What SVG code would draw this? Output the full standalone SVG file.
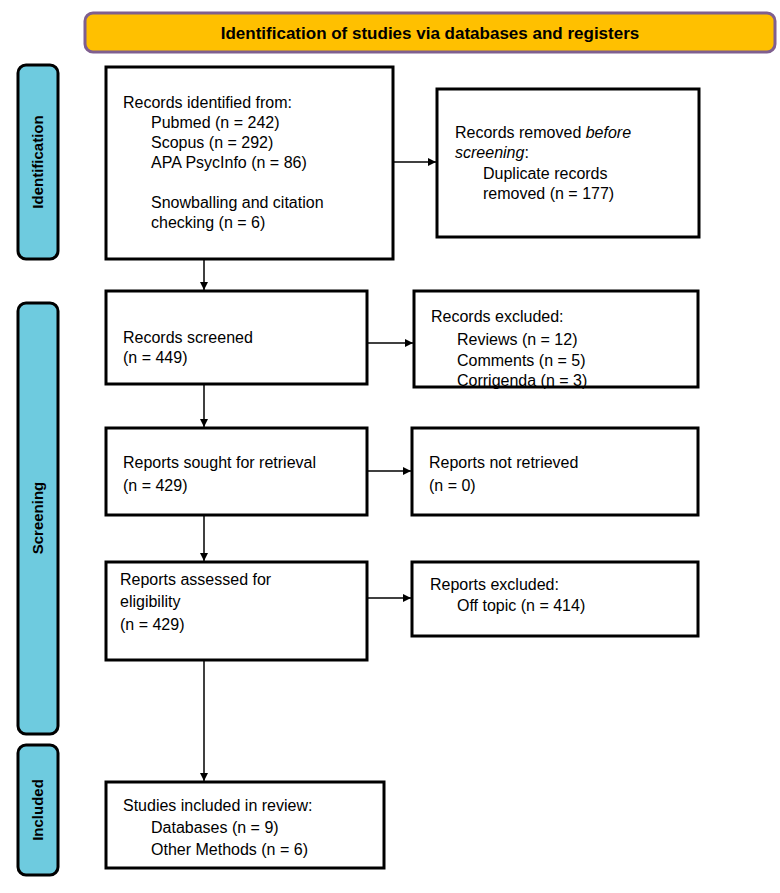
<svg xmlns="http://www.w3.org/2000/svg" width="780" height="893" viewBox="0 0 780 893">
<style>
text{font-family:"Liberation Sans",Arial,sans-serif;font-size:16px;fill:#000}
.b{fill:#fff;stroke:#000;stroke-width:3}
.side{fill:#6ECBDF;stroke:#000;stroke-width:3}
.sl{font-weight:bold;font-size:15px;text-anchor:middle}
.c line{stroke:#000;stroke-width:1.5}
</style>
<defs><marker id="a" viewBox="0 0 10 10" refX="10" refY="5" markerWidth="8" markerHeight="8" markerUnits="userSpaceOnUse" orient="auto"><path d="M0,0L10,5L0,10z"/></marker></defs>
<rect width="780" height="893" fill="#fff"/>
<g id="header"><rect x="85" y="13" width="690" height="39" rx="8" fill="#FFC000" stroke="#7F5F8F" stroke-width="3"/><text x="430" y="39" text-anchor="middle" font-weight="bold" style="font-size:17px">Identification of studies via databases and registers</text></g>
<g id="side-identification"><rect class="side" x="18" y="65" width="40" height="194" rx="8"/><text class="sl" transform="translate(43,162) rotate(-90)">Identification</text></g>
<g id="side-screening"><rect class="side" x="18" y="303" width="40" height="431" rx="8"/><text class="sl" transform="translate(43,518) rotate(-90)">Screening</text></g>
<g id="side-included"><rect class="side" x="18" y="745" width="40" height="130" rx="8"/><text class="sl" transform="translate(43,810) rotate(-90)">Included</text></g>
<g id="n1"><rect class="b" x="106" y="67" width="287" height="192"/><text x="123" y="108">Records identified from:</text><text x="151" y="128">Pubmed (n = 242)</text><text x="151" y="148">Scopus (n = 292)</text><text x="151" y="168">APA PsycInfo (n = 86)</text><text x="151" y="208">Snowballing and citation</text><text x="151" y="228">checking (n = 6)</text></g>
<g id="n2"><rect class="b" x="437" y="89" width="262" height="148"/><text x="455" y="138">Records removed <tspan font-style="italic">before</tspan></text><text x="455" y="158"><tspan font-style="italic">screening</tspan>:</text><text x="483" y="179">Duplicate records</text><text x="483" y="199">removed  (n = 177)</text></g>
<g id="n3"><rect class="b" x="106" y="291" width="261" height="93"/><text x="123" y="343">Records screened</text><text x="123" y="363">(n = 449)</text></g>
<g id="n4"><rect class="b" x="414" y="291" width="284" height="96"/><text x="431" y="322">Records excluded:</text><text x="457" y="345">Reviews (n = 12)</text><text x="457" y="366">Comments (n = 5)</text><text x="457" y="388" dy="-2">Corrigenda (n = 3)</text></g>
<g id="n5"><rect class="b" x="106" y="428" width="261" height="87"/><text x="123" y="468">Reports sought for retrieval</text><text x="123" y="491">(n = 429)</text></g>
<g id="n6"><rect class="b" x="412" y="428" width="286" height="87"/><text x="429" y="468">Reports not retrieved</text><text x="429" y="491">(n = 0)</text></g>
<g id="n7"><rect class="b" x="106" y="562" width="261" height="98"/><text x="120" y="585">Reports assessed for</text><text x="120" y="607">eligibility</text><text x="120" y="630">(n = 429)</text></g>
<g id="n8"><rect class="b" x="412" y="562" width="286" height="74"/><text x="430" y="590">Reports excluded:</text><text x="457" y="611">Off topic (n = 414)</text></g>
<g id="n9"><rect class="b" x="106" y="782" width="278" height="86"/><text x="123" y="811">Studies included in review:</text><text x="151" y="833">Databases (n = 9)</text><text x="151" y="855">Other Methods (n = 6)</text></g>
<g class="c" id="connectors">
<line x1="204" y1="260" x2="204" y2="290" marker-end="url(#a)"/>
<line x1="204" y1="385" x2="204" y2="427" marker-end="url(#a)"/>
<line x1="204" y1="516" x2="204" y2="561" marker-end="url(#a)"/>
<line x1="204" y1="661" x2="204" y2="781" marker-end="url(#a)"/>
<line x1="394" y1="162" x2="436" y2="162" marker-end="url(#a)"/>
<line x1="368" y1="343" x2="413" y2="343" marker-end="url(#a)"/>
<line x1="368" y1="471" x2="411" y2="471" marker-end="url(#a)"/>
<line x1="368" y1="598" x2="411" y2="598" marker-end="url(#a)"/>
</g>
</svg>
